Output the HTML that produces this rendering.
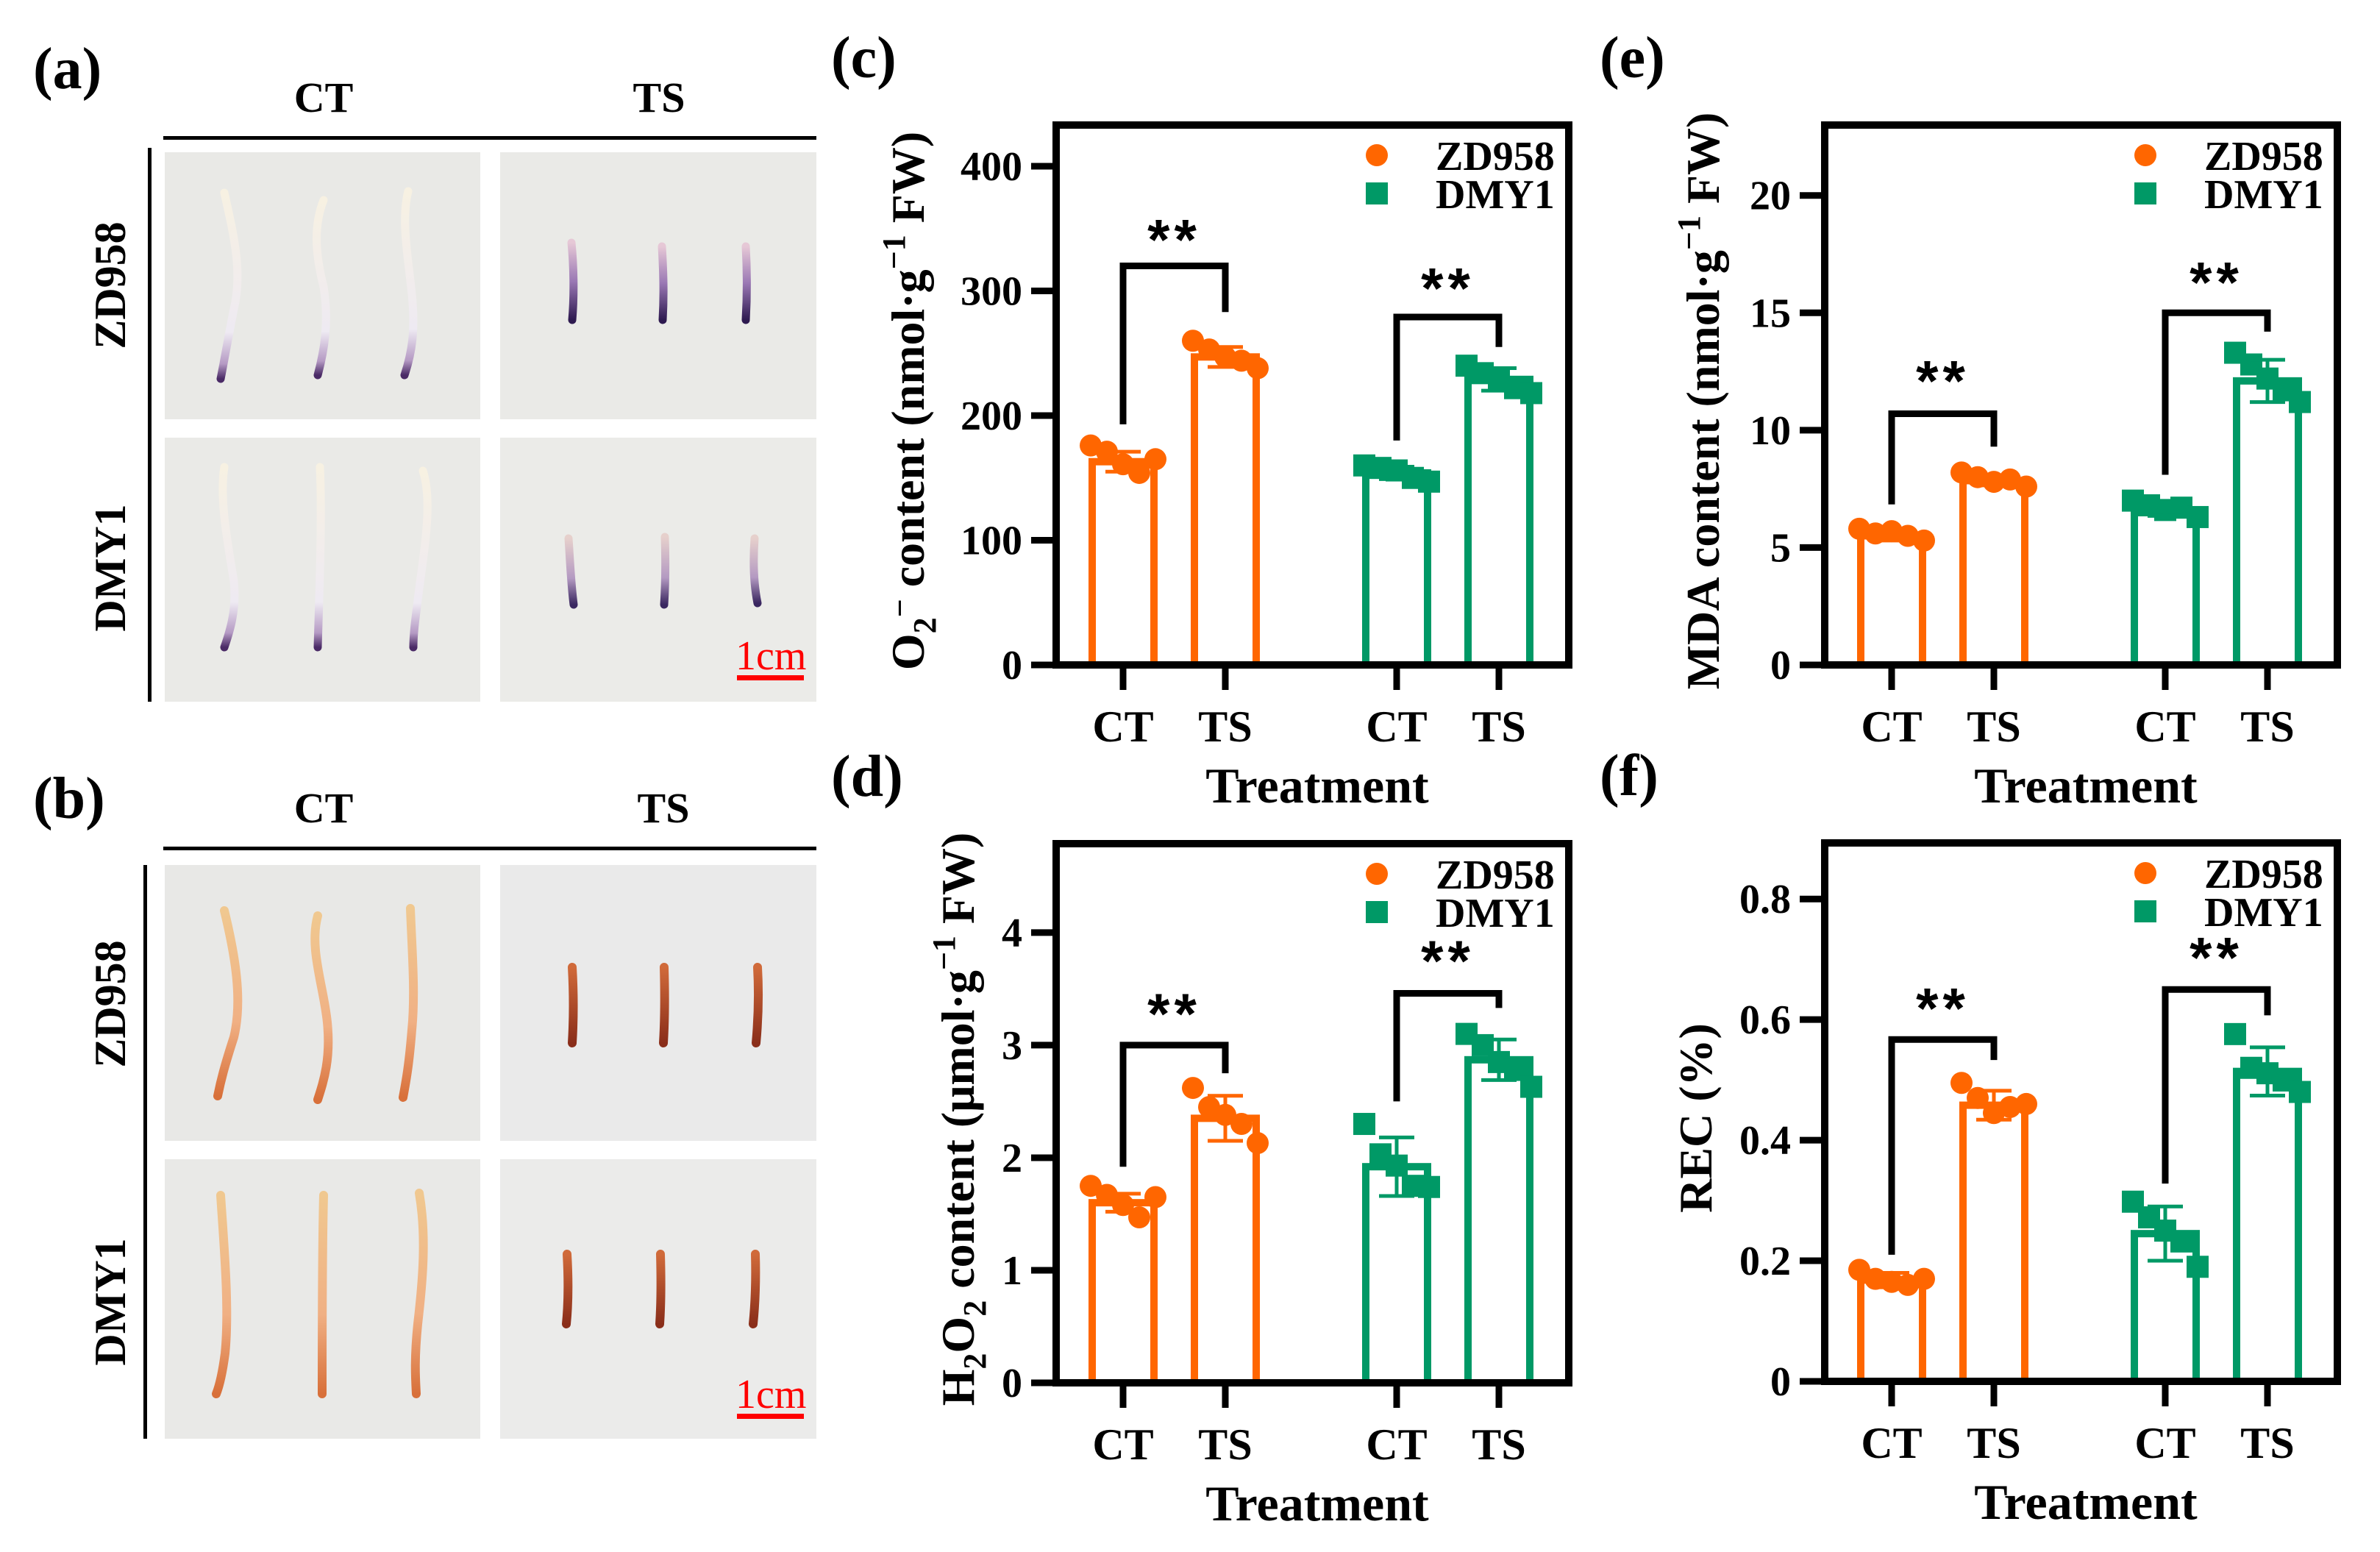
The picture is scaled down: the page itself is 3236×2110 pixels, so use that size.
<!DOCTYPE html>
<html><head><meta charset="utf-8">
<style>
html,body{margin:0;padding:0;background:#fff;}
svg{display:block;}
text{font-family:"Liberation Serif",serif;font-weight:bold;fill:#000;}
</style></head>
<body>
<svg id="fig" width="3236" height="2110" viewBox="0 0 3236 2110" xmlns="http://www.w3.org/2000/svg">
<defs>
<linearGradient id="ctA" x1="0" y1="0" x2="0" y2="1"><stop offset="0" stop-color="#f7f1e2"/><stop offset="0.75" stop-color="#eeeaf2"/><stop offset="0.92" stop-color="#b59ac4"/><stop offset="1" stop-color="#4a2a66"/></linearGradient>
<linearGradient id="tsA" x1="0" y1="0" x2="0" y2="1"><stop offset="0" stop-color="#e6c8d6"/><stop offset="0.5" stop-color="#9a78b4"/><stop offset="1" stop-color="#2e1a50"/></linearGradient>
<linearGradient id="tsA2" x1="0" y1="0" x2="0" y2="1"><stop offset="0" stop-color="#e6d0cc"/><stop offset="0.6" stop-color="#b49ac2"/><stop offset="1" stop-color="#3a2760"/></linearGradient>
<linearGradient id="ctB" x1="0" y1="0" x2="0" y2="1"><stop offset="0" stop-color="#f0c890"/><stop offset="0.6" stop-color="#f0b084"/><stop offset="1" stop-color="#d8703a"/></linearGradient>
<linearGradient id="tsB" x1="0" y1="0" x2="0" y2="1"><stop offset="0" stop-color="#d06a3a"/><stop offset="1" stop-color="#8a2e1a"/></linearGradient>
</defs>

<!-- Panel (a) -->
<g>
<text x="45" y="120" font-size="80" font-weight="normal">(<tspan font-weight="bold">a</tspan>)</text>
<text x="440" y="152" font-size="58" text-anchor="middle">CT</text>
<text x="896" y="152" font-size="58" text-anchor="middle">TS</text>
<rect x="222" y="185" width="888" height="5" fill="#000"/>
<rect x="201" y="201" width="5" height="753" fill="#000"/>
<text transform="translate(170,388) rotate(-90)" font-size="60" text-anchor="middle">ZD958</text>
<text transform="translate(170,772) rotate(-90)" font-size="60" text-anchor="middle">DMY1</text>
<rect x="224" y="207" width="429" height="363" fill="#e9e9e6"/>
<rect x="680" y="207" width="430" height="363" fill="#eaeae7"/>
<rect x="224" y="595" width="429" height="359" fill="#eaeae7"/>
<rect x="680" y="595" width="430" height="359" fill="#ebebe8"/>
<g fill="none" stroke-linecap="round" stroke-width="11">
<path d="M305 262 C318 320 330 370 318 420 C310 460 305 490 300 515" stroke="url(#ctA)"/>
<path d="M440 272 C425 310 430 350 440 390 C448 440 440 480 432 510" stroke="url(#ctA)"/>
<path d="M555 260 C545 300 555 350 560 400 C565 450 560 480 550 510" stroke="url(#ctA)"/>
<path d="M777 330 C780 360 781 400 778 435" stroke="url(#tsA)"/>
<path d="M900 335 C902 370 903 400 901 435" stroke="url(#tsA)"/>
<path d="M1014 335 C1016 370 1016 400 1014 435" stroke="url(#tsA)"/>
<path d="M305 635 C298 680 310 740 318 790 C322 830 312 860 305 880" stroke="url(#ctA)"/>
<path d="M435 635 C438 700 435 780 432 880" stroke="url(#ctA)"/>
<path d="M575 640 C588 680 578 740 570 800 C565 840 562 860 562 880" stroke="url(#ctA)"/>
<path d="M773 732 C775 760 776 790 780 822" stroke="url(#tsA2)"/>
<path d="M904 730 C905 760 905 790 903 822" stroke="url(#tsA2)"/>
<path d="M1026 732 C1024 760 1024 790 1030 820" stroke="url(#tsA2)"/>
</g>
<text x="1000" y="910" font-size="56" style="font-weight:normal;fill:#ff0000">1cm</text>
<rect x="1002" y="918" width="91" height="7" fill="#ff0000"/>
</g>

<!-- Panel (b) -->
<g>
<text x="45" y="1112" font-size="80" font-weight="normal">(<tspan font-weight="bold">b</tspan>)</text>
<text x="440" y="1118" font-size="58" text-anchor="middle">CT</text>
<text x="902" y="1118" font-size="58" text-anchor="middle">TS</text>
<rect x="222" y="1151" width="888" height="5" fill="#000"/>
<rect x="195" y="1176" width="5" height="780" fill="#000"/>
<text transform="translate(170,1365) rotate(-90)" font-size="60" text-anchor="middle">ZD958</text>
<text transform="translate(170,1770) rotate(-90)" font-size="60" text-anchor="middle">DMY1</text>
<rect x="224" y="1176" width="429" height="375" fill="#e8e8e6"/>
<rect x="680" y="1176" width="430" height="375" fill="#eaeaea"/>
<rect x="224" y="1576" width="429" height="380" fill="#e9e9e7"/>
<rect x="680" y="1576" width="430" height="380" fill="#ebebea"/>
<g fill="none" stroke-linecap="round" stroke-width="12">
<path d="M305 1238 C320 1300 330 1360 318 1410 C305 1450 300 1470 296 1490" stroke="url(#ctB)"/>
<path d="M432 1245 C420 1290 440 1340 445 1390 C450 1440 440 1470 432 1495" stroke="url(#ctB)"/>
<path d="M558 1235 C560 1290 565 1350 560 1400 C556 1450 552 1470 548 1492" stroke="url(#ctB)"/>
<path d="M778 1315 C780 1350 780 1385 778 1418" stroke="url(#tsB)"/>
<path d="M903 1315 C904 1350 904 1385 902 1418" stroke="url(#tsB)"/>
<path d="M1030 1315 C1032 1350 1031 1385 1028 1418" stroke="url(#tsB)"/>
<path d="M300 1625 C305 1700 312 1780 306 1840 C302 1870 298 1885 294 1895" stroke="url(#ctB)"/>
<path d="M440 1625 C438 1700 438 1800 438 1895" stroke="url(#ctB)"/>
<path d="M570 1622 C580 1680 575 1740 568 1800 C563 1850 565 1875 566 1895" stroke="url(#ctB)"/>
<path d="M771 1705 C773 1740 773 1770 770 1800" stroke="url(#tsB)"/>
<path d="M898 1705 C899 1740 899 1770 897 1800" stroke="url(#tsB)"/>
<path d="M1027 1705 C1028 1740 1027 1770 1024 1800" stroke="url(#tsB)"/>
</g>
<text x="1000" y="1914" font-size="56" style="font-weight:normal;fill:#ff0000">1cm</text>
<rect x="1002" y="1922" width="91" height="7" fill="#ff0000"/>
</g>

<g id="charts"></g>
</svg>

<script>
// ---------- data ----------
const groups = ["ZD958", "DMY1"];
const treatments = ["CT", "TS"];

// (c) O2- content
const cTicks = [0, 100, 200, 300, 400];
const cMeans = [163, 247, 154, 229];
const cErrs = [8, 8, 5, 9];
const cPoints = [[176,171,161,154,165],[260,253,247,244,238],[160,158,156,150,147],[240,234,229,222,218]];
const cBrackets = [[193, 320, 283, 343], [180, 279, 255, 304]];

// (d) H2O2 content
const dTicks = [0, 1, 2, 3, 4];
const dMeans = [1.6, 2.35, 1.92, 2.87];
const dErrs = [0.08, 0.2, 0.26, 0.18];
const dPoints = [[1.75,1.67,1.58,1.47,1.65],[2.62,2.45,2.38,2.3,2.13],[2.3,2.03,1.93,1.75,1.74],[3.1,3.0,2.85,2.78,2.63]];
const dBrackets = [[1.92, 3.0, 2.75, 3.3], [2.5, 3.46, 3.33, 3.77]];

// (e) MDA content
const eTicks = [0, 5, 10, 15, 20];
const eMeans = [5.5, 7.85, 6.6, 12.1];
const eErrs = [0.2, 0.2, 0.25, 0.9];
const ePoints = [[5.8,5.6,5.7,5.5,5.3],[8.2,8.0,7.8,7.9,7.6],[7.0,6.8,6.6,6.7,6.3],[13.3,12.8,12.2,11.7,11.2]];
const eBrackets = [[6.84, 10.7, 9.3, 12.2], [8.1, 15.0, 14.2, 16.4]];

// (f) REC
const fTicks = [0, 0.2, 0.4, 0.6, 0.8];
const fTickLabels = ["0", "0.2", "0.4", "0.6", "0.8"];
const fMeans = [0.168, 0.458, 0.245, 0.514];
const fErrs = [0.012, 0.024, 0.045, 0.04];
const fPoints = [[0.185,0.17,0.165,0.16,0.17],[0.495,0.47,0.445,0.455,0.46],[0.298,0.272,0.25,0.232,0.19],[0.576,0.52,0.511,0.499,0.48]];
const fBrackets = [[0.21, 0.567, 0.533, 0.623], [0.328, 0.65, 0.607, 0.707]];

// ---------- drawing ----------
const NS = "http://www.w3.org/2000/svg";
const root = document.getElementById("charts");
const COLORS = ["#ff6600", "#009966"];
const JITTER = [-0.5, -0.25, 0, 0.25, 0.5];

function mk(tag, attrs, parent) {
  const el = document.createElementNS(NS, tag);
  for (const k in attrs) el.setAttribute(k, attrs[k]);
  parent.appendChild(el);
  return el;
}

function drawChart(cfg) {
  const g = mk("g", {}, root);
  
  
  const L = cfg.left, T = cfg.top, B = cfg.bottom, R = cfg.left + 697;
  const y = v => B - (v / cfg.ymax) * (B - T);
  const xc = (grp, tr) => L + 91 + tr * 139 + grp * 372;
  const bw = 84;

  const pl = mk("text", {x: L - 306, y: T - 65, "font-size": 80, "font-weight": "normal"}, g);
  pl.innerHTML = '(<tspan font-weight="bold">' + cfg.letter + '</tspan>)';
  
  

  for (let i = 0; i < 4; i++) {
    const grp = Math.floor(i / 2), tr = i % 2, col = COLORS[grp];
    const cx = xc(grp, tr);
    const bar = mk("rect", {x: cx - bw / 2, y: y(cfg.means[i]), width: bw, height: B - y(cfg.means[i]), fill: "none", stroke: col, "stroke-width": 10}, g);
    
    
    cfg.points[i].forEach((v, j) => {
      const px = cx + JITTER[j] * (bw + 4);
      let p;
      if (grp === 0) p = mk("circle", {cx: px, cy: y(v), r: 15, fill: col}, g);
      else p = mk("rect", {x: px - 15, y: y(v) - 15, width: 30, height: 30, fill: col}, g);
      
      
    });
    const eb = mk("path", {d: `M${cx} ${y(cfg.means[i] - cfg.errs[i])}V${y(cfg.means[i] + cfg.errs[i])}M${cx - 24} ${y(cfg.means[i] + cfg.errs[i])}H${cx + 24}M${cx - 24} ${y(cfg.means[i] - cfg.errs[i])}H${cx + 24}`, stroke: col, "stroke-width": 5, fill: "none"}, g);
    
    
  }

  cfg.brackets.forEach((b, k) => {
    const x1 = xc(k, 0), x2 = xc(k, 1);
    const br = mk("path", {d: `M${x1} ${y(b[0])}V${y(b[1])}H${x2}V${y(b[2])}`, stroke: "#000", "stroke-width": 9, fill: "none"}, g);
    
    
    const st = mk("text", {x: (x1 + x2) / 2, y: y(b[3]) + 30, "font-size": 78, "text-anchor": "middle", "letter-spacing": 6, style: "font-family:'Liberation Sans',sans-serif"}, g);
    st.textContent = "**";
    
    
  });

  const fr = mk("rect", {x: L, y: T, width: R - L, height: B - T, fill: "none", stroke: "#000", "stroke-width": 10}, g);
  
  

  cfg.ticks.forEach((t, k) => {
    const tk = mk("line", {x1: L - 34, x2: L, y1: y(t), y2: y(t), stroke: "#000", "stroke-width": 9}, g);
    
    
    const tl = mk("text", {x: L - 46, y: y(t) + 19, "font-size": 56, "text-anchor": "end"}, g);
    tl.textContent = cfg.tickLabels ? cfg.tickLabels[k] : String(t);
    
    
  });

  for (let i = 0; i < 4; i++) {
    const grp = Math.floor(i / 2), tr = i % 2, cx = xc(grp, tr);
    const tk = mk("line", {x1: cx, x2: cx, y1: B, y2: B + 34, stroke: "#000", "stroke-width": 9}, g);
    
    
    const tl = mk("text", {x: cx, y: B + 104, "font-size": 60, "text-anchor": "middle"}, g);
    tl.textContent = treatments[tr];
    
    
  }
  const xt = mk("text", {x: L + 355, y: B + 187, "font-size": 68, "text-anchor": "middle"}, g);
  xt.textContent = "Treatment";
  
  

  const yt = mk("text", {transform: `translate(${L - cfg.ytOff},${(T + B) / 2 + 8}) rotate(-90)`, "font-size": 64, "text-anchor": "middle"}, g);
  yt.innerHTML = cfg.ytitle;
  
  

  const lc = mk("circle", {cx: R - 261, cy: T + 41, r: 15, fill: COLORS[0]}, g);
  
  
  const ls = mk("rect", {x: R - 276, y: T + 78, width: 30, height: 30, fill: COLORS[1]}, g);
  
  
  const t1 = mk("text", {x: R - 181, y: T + 61, "font-size": 56}, g);
  t1.textContent = groups[0];
  
  
  const t2 = mk("text", {x: R - 181, y: T + 113, "font-size": 56}, g);
  t2.textContent = groups[1];
  
  
}

const SUB = '<tspan font-size="44" dy="16">', SUP = '<tspan font-size="44" dy="-26">';
drawChart({name: "chart-c-o2", letter: "c", left: 1436, top: 170, bottom: 904, ymax: 433,
  ticks: cTicks, means: cMeans, errs: cErrs, points: cPoints, brackets: cBrackets, ytOff: 180,
  ytitle: 'O' + SUB + '2</tspan><tspan font-size="44" dy="-34">−</tspan><tspan dy="18"> content (nmol·g</tspan>' + SUP + '−1</tspan><tspan dy="26"> FW)</tspan>'});
drawChart({name: "chart-e-mda", letter: "e", left: 2481, top: 170, bottom: 904, ymax: 23.0,
  ticks: eTicks, means: eMeans, errs: eErrs, points: ePoints, brackets: eBrackets, ytOff: 144,
  ytitle: 'MDA content (nmol·g' + SUP + '−1</tspan><tspan dy="26"> FW)</tspan>'});
drawChart({name: "chart-d-h2o2", letter: "d", left: 1436, top: 1147, bottom: 1880, ymax: 4.79,
  ticks: dTicks, means: dMeans, errs: dErrs, points: dPoints, brackets: dBrackets, ytOff: 112,
  ytitle: 'H' + SUB + '2</tspan><tspan dy="-16">O</tspan>' + SUB + '2</tspan><tspan dy="-16"> content (μmol·g</tspan>' + SUP + '−1</tspan><tspan dy="26"> FW)</tspan>'});
drawChart({name: "chart-f-rec", letter: "f", left: 2481, top: 1146, bottom: 1878, ymax: 0.893,
  ticks: fTicks, tickLabels: fTickLabels, means: fMeans, errs: fErrs, points: fPoints, brackets: fBrackets, ytOff: 154,
  ytitle: 'REC (%)'});
</script>
</body></html>
